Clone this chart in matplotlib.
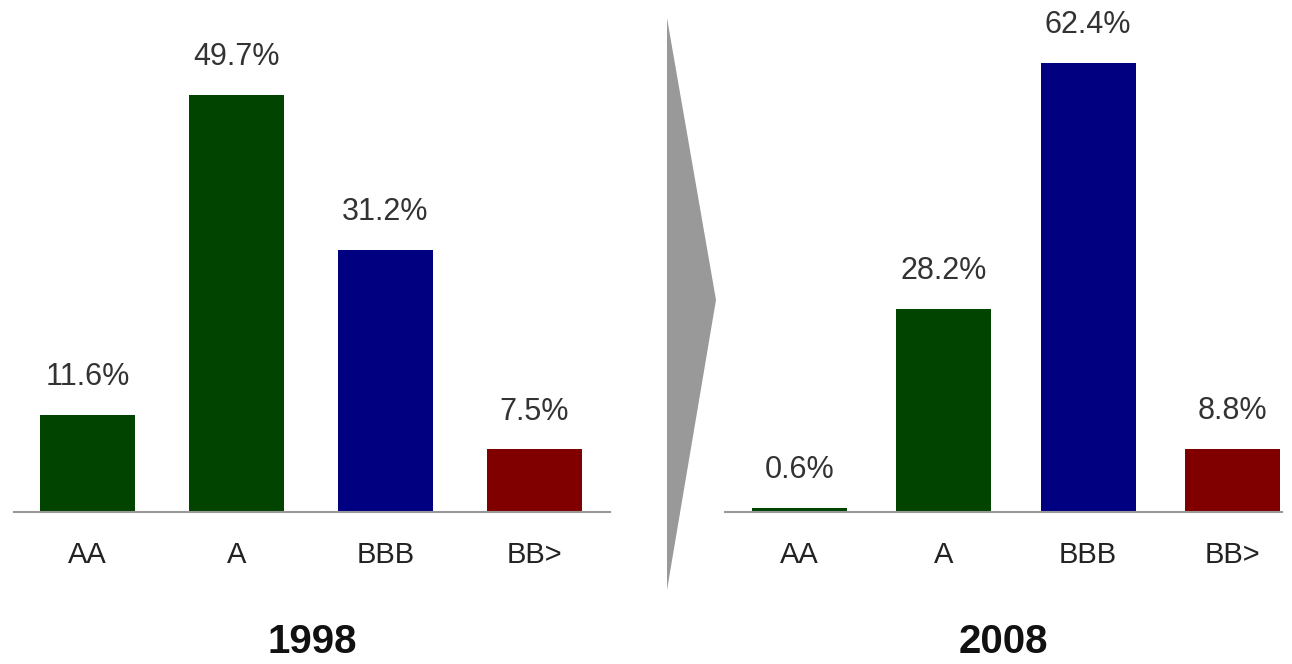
import matplotlib.pyplot as plt
from matplotlib.patches import Polygon

plt.rcParams['font.family'] = ['Liberation Sans', 'DejaVu Sans']

categories = ["AA", "A", "BBB", "BB>"]
share_1998 = [11.6, 49.7, 31.2, 7.5]
share_2008 = [0.6, 28.2, 62.4, 8.8]
years = ["1998", "2008"]
bar_colors = ["#004400", "#004400", "#000080", "#800000"]

W, H = 1292, 664
fig = plt.figure(figsize=(W / 100, H / 100), dpi=100)


def px_axes(x0, x1, y_base):
    # axes from pixel x0..x1, bottom at y_base, up to top of figure
    return fig.add_axes([x0 / W, (H - y_base) / H, (x1 - x0) / W, y_base / H])


def draw_panel(ax, values, year, ymax, xlim, width):
    x = range(len(categories))
    ax.bar(x, values, width=width, color=bar_colors, zorder=2)
    ax.set_ylim(0, ymax)
    ax.set_xlim(*xlim)
    for xi, v in zip(x, values):
        ax.annotate("{:.1f}%".format(v), (xi, v), xytext=(0, 27),
                    textcoords="offset points", ha="center", va="center",
                    fontsize=22, color="#333333")
    ax.set_xticks(list(x), labels=categories)
    ax.tick_params(axis="x", length=0, pad=21, labelsize=21, labelcolor="#222222")
    ax.set_yticks([])
    for s in ["top", "right", "left"]:
        ax.spines[s].set_visible(False)
    ax.spines["bottom"].set_color("#999999")
    ax.spines["bottom"].set_linewidth(1.5)
    ax.text(0.5, -0.253, year, transform=ax.transAxes, ha="center", va="center",
            fontsize=29, fontweight="bold", color="#111111")


ax1 = px_axes(14, 610, 512)
draw_panel(ax1, share_1998, years[0], 512 / 8.4, (-0.493, 3.507), 0.64)

ax2 = px_axes(725, 1282, 512)
draw_panel(ax2, share_2008, years[1], 512 / 7.2, (-0.516, 3.343), 0.658)

# grey chevron between the panels
pts = [(667, 18), (716, 300), (667, 590)]
arrow = Polygon([(px / W, 1 - py / H) for px, py in pts], closed=True,
                transform=fig.transFigure, facecolor="#999999", edgecolor="none")
fig.patches.append(arrow)

fig.savefig("out.png", dpi=100)
